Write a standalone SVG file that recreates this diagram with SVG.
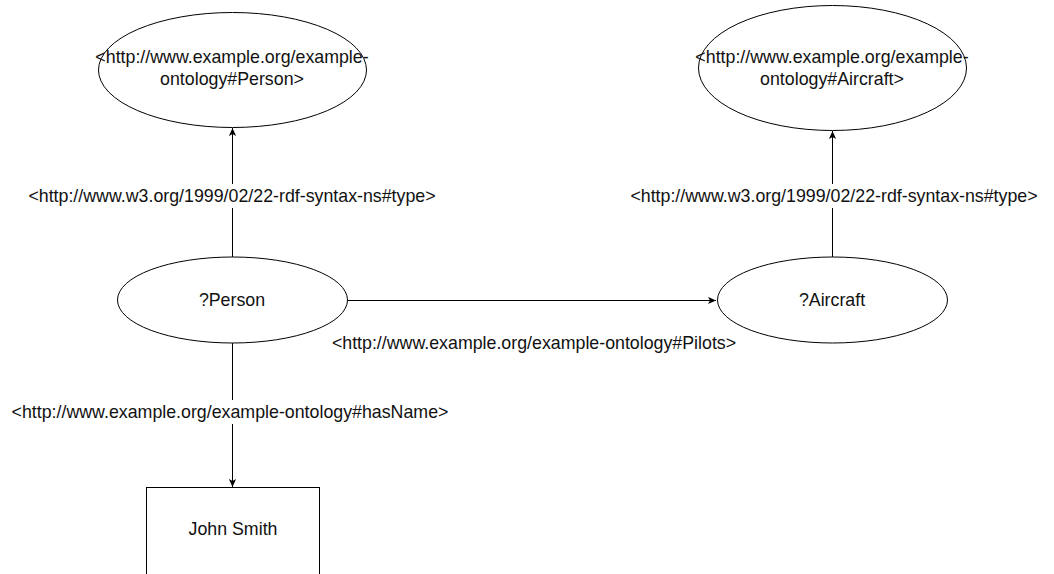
<svg xmlns="http://www.w3.org/2000/svg" width="1054" height="574" viewBox="0 0 1054 574">
<defs>
<marker id="arr" viewBox="0 0 10 10" refX="10" refY="5" markerWidth="8" markerHeight="8" markerUnits="userSpaceOnUse" orient="auto">
<path d="M0,0.5 L10,5 L0,9.5 L2.5,5 Z" fill="#000"/>
</marker>
</defs>
<style>
.shape{fill:#fff;stroke:#000;stroke-width:1}
.t{font-family:"Liberation Sans",Arial,sans-serif;font-size:17.8px;fill:#111;text-anchor:middle}
.edge{stroke:#000;stroke-width:1;fill:none}
</style>
<rect width="1054" height="574" fill="#fff"/>
<g id="connectors">
<line class="edge" x1="232.5" y1="257" x2="232.5" y2="128" marker-end="url(#arr)"/>
<line class="edge" x1="832.5" y1="257" x2="832.5" y2="131" marker-end="url(#arr)"/>
<line class="edge" x1="348" y1="300.5" x2="716" y2="300.5" marker-end="url(#arr)"/>
<line class="edge" x1="232.5" y1="343" x2="232.5" y2="487" marker-end="url(#arr)"/>
<rect x="18" y="184" width="430" height="24" fill="#fff"/>
<text class="t" x="232" y="202">&lt;http://www.w3.org/1999/02/22-rdf-syntax-ns#type&gt;</text>
<rect x="618" y="184" width="434" height="24" fill="#fff"/>
<text class="t" x="834" y="202">&lt;http://www.w3.org/1999/02/22-rdf-syntax-ns#type&gt;</text>
<text class="t" x="534" y="349">&lt;http://www.example.org/example-ontology#Pilots&gt;</text>
<rect x="8" y="400" width="446" height="24" fill="#fff"/>
<text class="t" x="230" y="418">&lt;http://www.example.org/example-ontology#hasName&gt;</text>
</g>
<g id="person-class">
<ellipse class="shape" cx="232.5" cy="70" rx="134" ry="57.5"/>
<text class="t" x="232" y="63">&lt;http://www.example.org/example-</text>
<text class="t" x="232" y="85">ontology#Person&gt;</text>
</g>
<g id="aircraft-class">
<ellipse class="shape" cx="832.5" cy="68" rx="134" ry="62.5"/>
<text class="t" x="832" y="63">&lt;http://www.example.org/example-</text>
<text class="t" x="832" y="85">ontology#Aircraft&gt;</text>
</g>
<g id="person">
<ellipse class="shape" cx="232.5" cy="300" rx="115" ry="43"/>
<text class="t" x="232" y="306">?Person</text>
</g>
<g id="aircraft">
<ellipse class="shape" cx="832.5" cy="300" rx="115" ry="43"/>
<text class="t" x="832" y="306">?Aircraft</text>
</g>
<g id="john-smith">
<rect class="shape" x="146.5" y="487.5" width="173" height="100"/>
<text class="t" x="233" y="535">John Smith</text>
</g>
</svg>
